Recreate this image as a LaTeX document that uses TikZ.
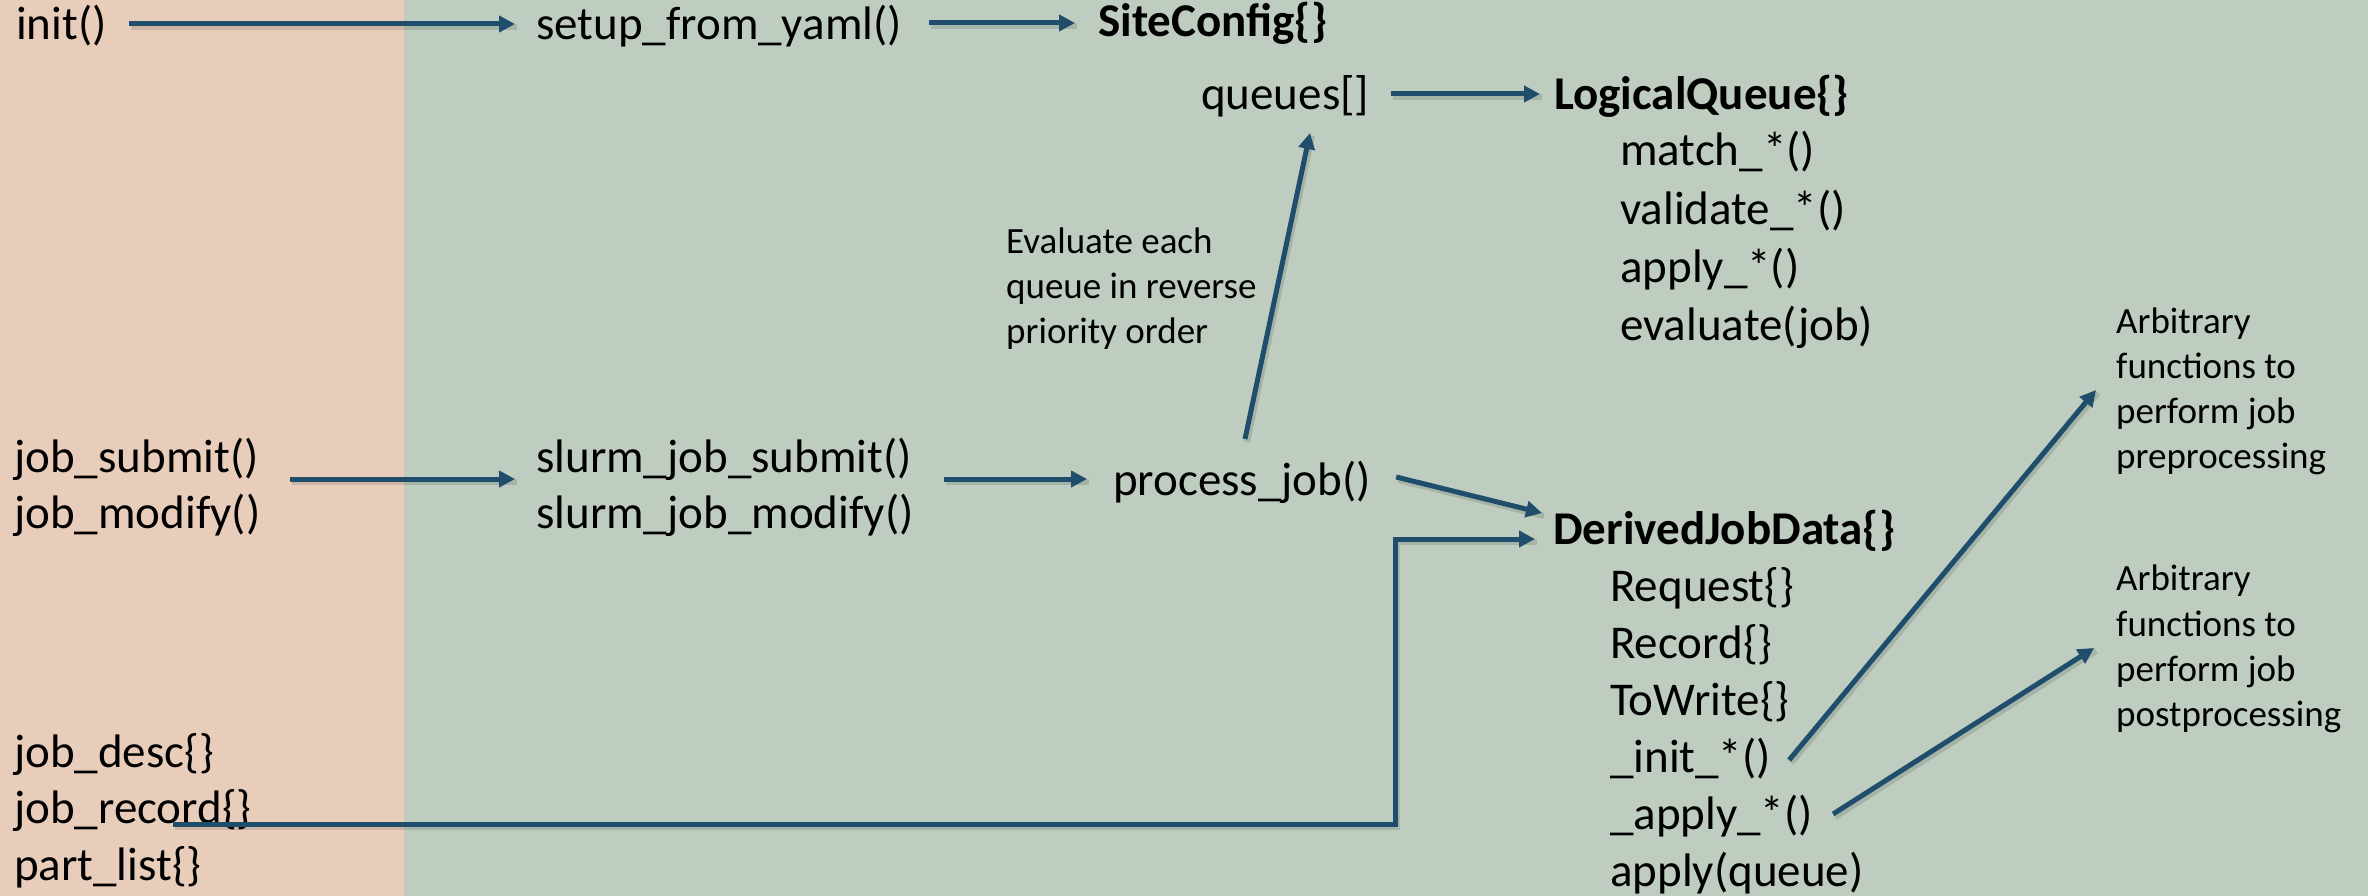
\documentclass[tikz,border=0pt]{standalone}
\usepackage{fontspec}
\setmainfont{Carlito}
\usetikzlibrary{arrows.meta}
\definecolor{leftbg}{HTML}{E9CDBB}
\definecolor{rightbg}{HTML}{BECDBF}
\definecolor{arrowc}{HTML}{1F4D6C}
\tikzset{
  t/.style={anchor=base west, inner sep=0pt, font=\fontsize{47}{57}\selectfont},
  tb/.style={anchor=base west, inner sep=0pt, font=\fontsize{47}{57}\selectfont\bfseries},
  s/.style={anchor=base west, inner sep=0pt, font=\fontsize{37}{45}\selectfont},
  arr/.style={draw=arrowc, line width=5pt, -{Triangle[length=16pt,width=16pt]},
    preaction={draw=black, draw opacity=0.12, line width=6pt, arrows=-, transform canvas={shift={(2pt,-3pt)}}}}
}
\begin{document}
\begin{tikzpicture}[x=1pt,y=-1pt]
\fill[leftbg] (0,0) rectangle (404,896);
\fill[rightbg] (404,0) rectangle (2368,896);
\useasboundingbox (0,0) rectangle (2368,896);
% left column
\node[t] (init) at (16,40) {init()};
\node[t] (jobsub) at (14,472) {job\_submit()};
\node[t] (jobmod) at (14,528) {job\_modify()};
\node[t] (jobdesc) at (14,767) {job\_desc\{\}};
\node[t] (jobrec) at (14,823) {job\_record\{\}};
\node[t] (partlist) at (14,880) {part\_list\{\}};
% middle
\node[t] (setup) at (536,40) {setup\_from\_yaml()};
\node[t] (slsub) at (536,472) {slurm\_job\_submit()};
\node[t] (slmod) at (536,528) {slurm\_job\_modify()};
\node[t] (process) at (1113,495) {process\_job()};
\node[tb] (site) at (1098,37) {SiteConfig\{\}};
\node[t] (queues) at (1201,110) {queues[]};
\node[s] (ev1) at (1006,253) {Evaluate each};
\node[s] (ev2) at (1006,298) {queue in reverse};
\node[s] (ev3) at (1006,343) {priority order};
% logical queue
\node[tb] (lq) at (1554,110) {LogicalQueue\{\}};
\node[t] (match) at (1620,166) {match\_*()};
\node[t] (validate) at (1620,224) {validate\_*()};
\node[t] (applys) at (1620,282) {apply\_*()};
\node[t] (evaluate) at (1620,340) {evaluate(job)};
% derived job data
\node[tb] (derived) at (1553,544) {DerivedJobData\{\}};
\node[t] (request) at (1610,601) {Request\{\}};
\node[t] (record) at (1610,658) {Record\{\}};
\node[t] (towrite) at (1610,715) {ToWrite\{\}};
\node[t] (initx) at (1610,772) {\_init\_*()};
\node[t] (applyx) at (1610,829) {\_apply\_*()};
\node[t] (applyq) at (1610,886) {apply(queue)};
% notes
\node[s] (pre1) at (2116,333) {Arbitrary};
\node[s] (pre2) at (2116,378) {functions to};
\node[s] (pre3) at (2116,423) {perform job};
\node[s] (pre4) at (2116,468) {preprocessing};
\node[s] (post1) at (2116,590) {Arbitrary};
\node[s] (post2) at (2116,636) {functions to};
\node[s] (post3) at (2116,681) {perform job};
\node[s] (post4) at (2116,726) {postprocessing};
% connectors
\draw[arr] ([shift={(22,-16)}]init.base east) -- ([shift={(-21,-16)}]setup.base west);
\draw[arr] ([shift={(27,-17)}]setup.base east) -- ([shift={(-23,-14)}]site.base west);
\draw[arr] ([shift={(22,-16)}]queues.base east) -- ([shift={(-14,-16)}]lq.base west);
\draw[arr] ([shift={(31,7)}]jobsub.base east) -- ([shift={(-21,7)}]slsub.base west);
\draw[arr] ([shift={(32,7)}]slsub.base east) -- ([shift={(-26,-16)}]process.base west);
\draw[arr] ([shift={(25,-18)}]process.base east) -- ([shift={(-11,-31)}]derived.base west);
\draw[arr] ([shift={(132,-56)}]process.base west) -- ([shift={(109,23)}]queues.base west);
\draw[arr] ([shift={(159,1)}]jobrec.base west) -| ([shift={(-158,-5)}]derived.base west) -- ([shift={(-18,-5)}]derived.base west);
\draw[arr] ([shift={(18,-12)}]initx.base east) -- ([shift={(-20,57)}]pre1.base west);
\draw[arr] ([shift={(20,-15)}]applyx.base east) -- ([shift={(-22,58)}]post1.base west);
\end{tikzpicture}
\end{document}
